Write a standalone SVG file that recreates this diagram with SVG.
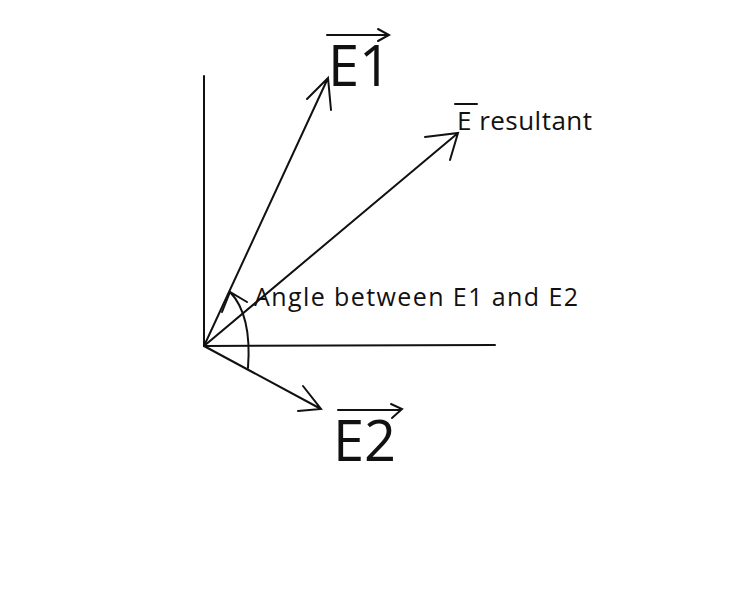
<svg xmlns="http://www.w3.org/2000/svg" width="742" height="600" viewBox="0 0 742 600">
<style>
.l{stroke:#111;stroke-width:2;fill:none;stroke-linecap:round}
.t{font-family:"Segoe UI","Open Sans","Noto Sans",sans-serif;fill:#111}
</style>
<rect width="742" height="600" fill="#fff"/>
<g id="connectors">
<path class="l" d="M204 76V346L495 345"/>
<path class="l" d="M204 346L328 78M307 99L328 78L331 110"/>
<path class="l" d="M204 346L458 133M425 137L458 133L450 160"/>
<path class="l" d="M204 346L321 409M303 386L321 409L298 411"/>
<path class="l" d="M248 368Q252 315 230 292M222 312L230 292L247 302"/>
</g>
<g id="E1"><text class="t" x="328" y="86" font-size="56">E1</text><path class="l" d="M327 35H388M378 29L389 35L378 41"/></g>
<g id="E2"><text class="t" x="333" y="461" font-size="56">E2</text><path class="l" d="M338 410H401M391 404L402 409L392 418"/></g>
<g id="Eres"><text class="t" x="457" y="130" font-size="26" textLength="135">E resultant</text><path class="l" d="M455 104H477"/></g>
<g id="angle"><text class="t" x="254" y="306" font-size="25" textLength="324">Angle between E1 and E2</text></g>
</svg>
